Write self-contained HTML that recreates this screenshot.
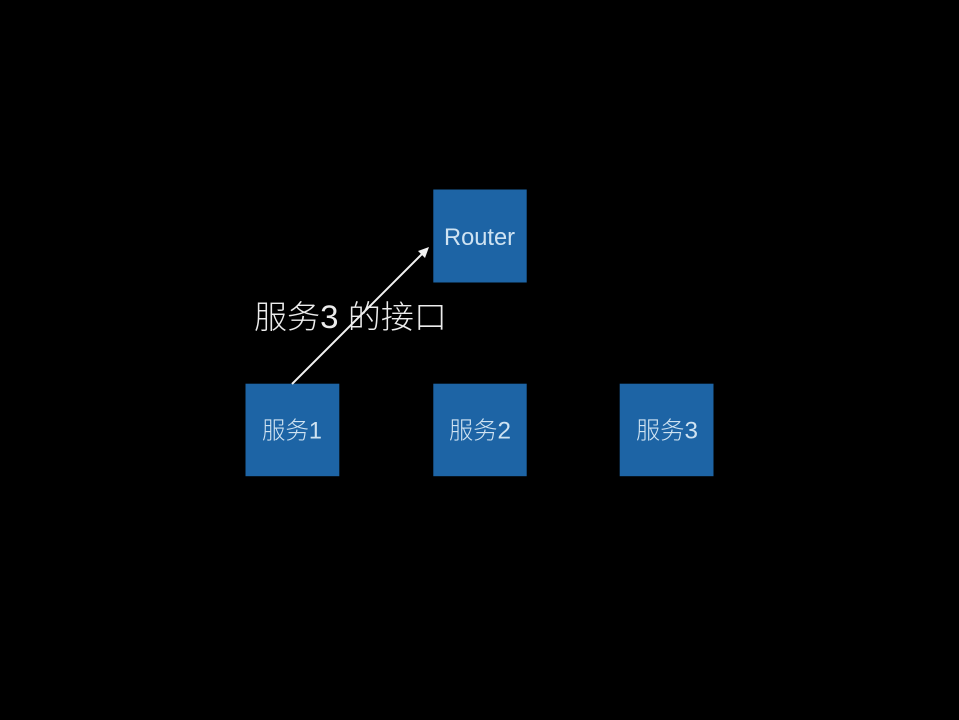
<!DOCTYPE html>
<html>
<head>
<meta charset="utf-8">
<style>
html,body{margin:0;padding:0;background:#000;width:959px;height:720px;overflow:hidden}
.f{position:absolute;left:0;top:0}
text{font-family:"Liberation Sans","Noto Sans CJK SC",sans-serif;fill:#cfe3f2;font-weight:300}
</style>
</head>
<body>
<svg class="f" width="959" height="720" viewBox="0 0 959 720" xmlns="http://www.w3.org/2000/svg">
<rect width="959" height="720" fill="#000"/>
<rect x="433.300" y="189.500" width="93.400" height="93" fill="#1d64a5"/>
<rect x="245.500" y="383.700" width="93.800" height="92.500" fill="#1d64a5"/>
<rect x="433.300" y="383.700" width="93.400" height="92.500" fill="#1d64a5"/>
<rect x="619.700" y="383.700" width="93.800" height="92.500" fill="#1d64a5"/>
<text x="479.500" y="245" font-size="24" text-anchor="middle" textLength="71" lengthAdjust="spacingAndGlyphs">Router</text>
<text x="262" y="438.500" font-size="24" textLength="60" lengthAdjust="spacingAndGlyphs">服务1</text>
<text x="449" y="438.500" font-size="24" textLength="62" lengthAdjust="spacingAndGlyphs">服务2</text>
<text x="636" y="438.500" font-size="24" textLength="62" lengthAdjust="spacingAndGlyphs">服务3</text>
<line x1="292" y1="384" x2="424" y2="252" stroke="#f2f2f2" stroke-width="2"/>
<polygon points="429,247 425,258 418,251" fill="#f2f2f2"/>
<text x="254" y="328" font-size="32" style="fill:#ececec" textLength="193" lengthAdjust="spacingAndGlyphs">服务3 的接口</text>
</svg>
</body>
</html>
